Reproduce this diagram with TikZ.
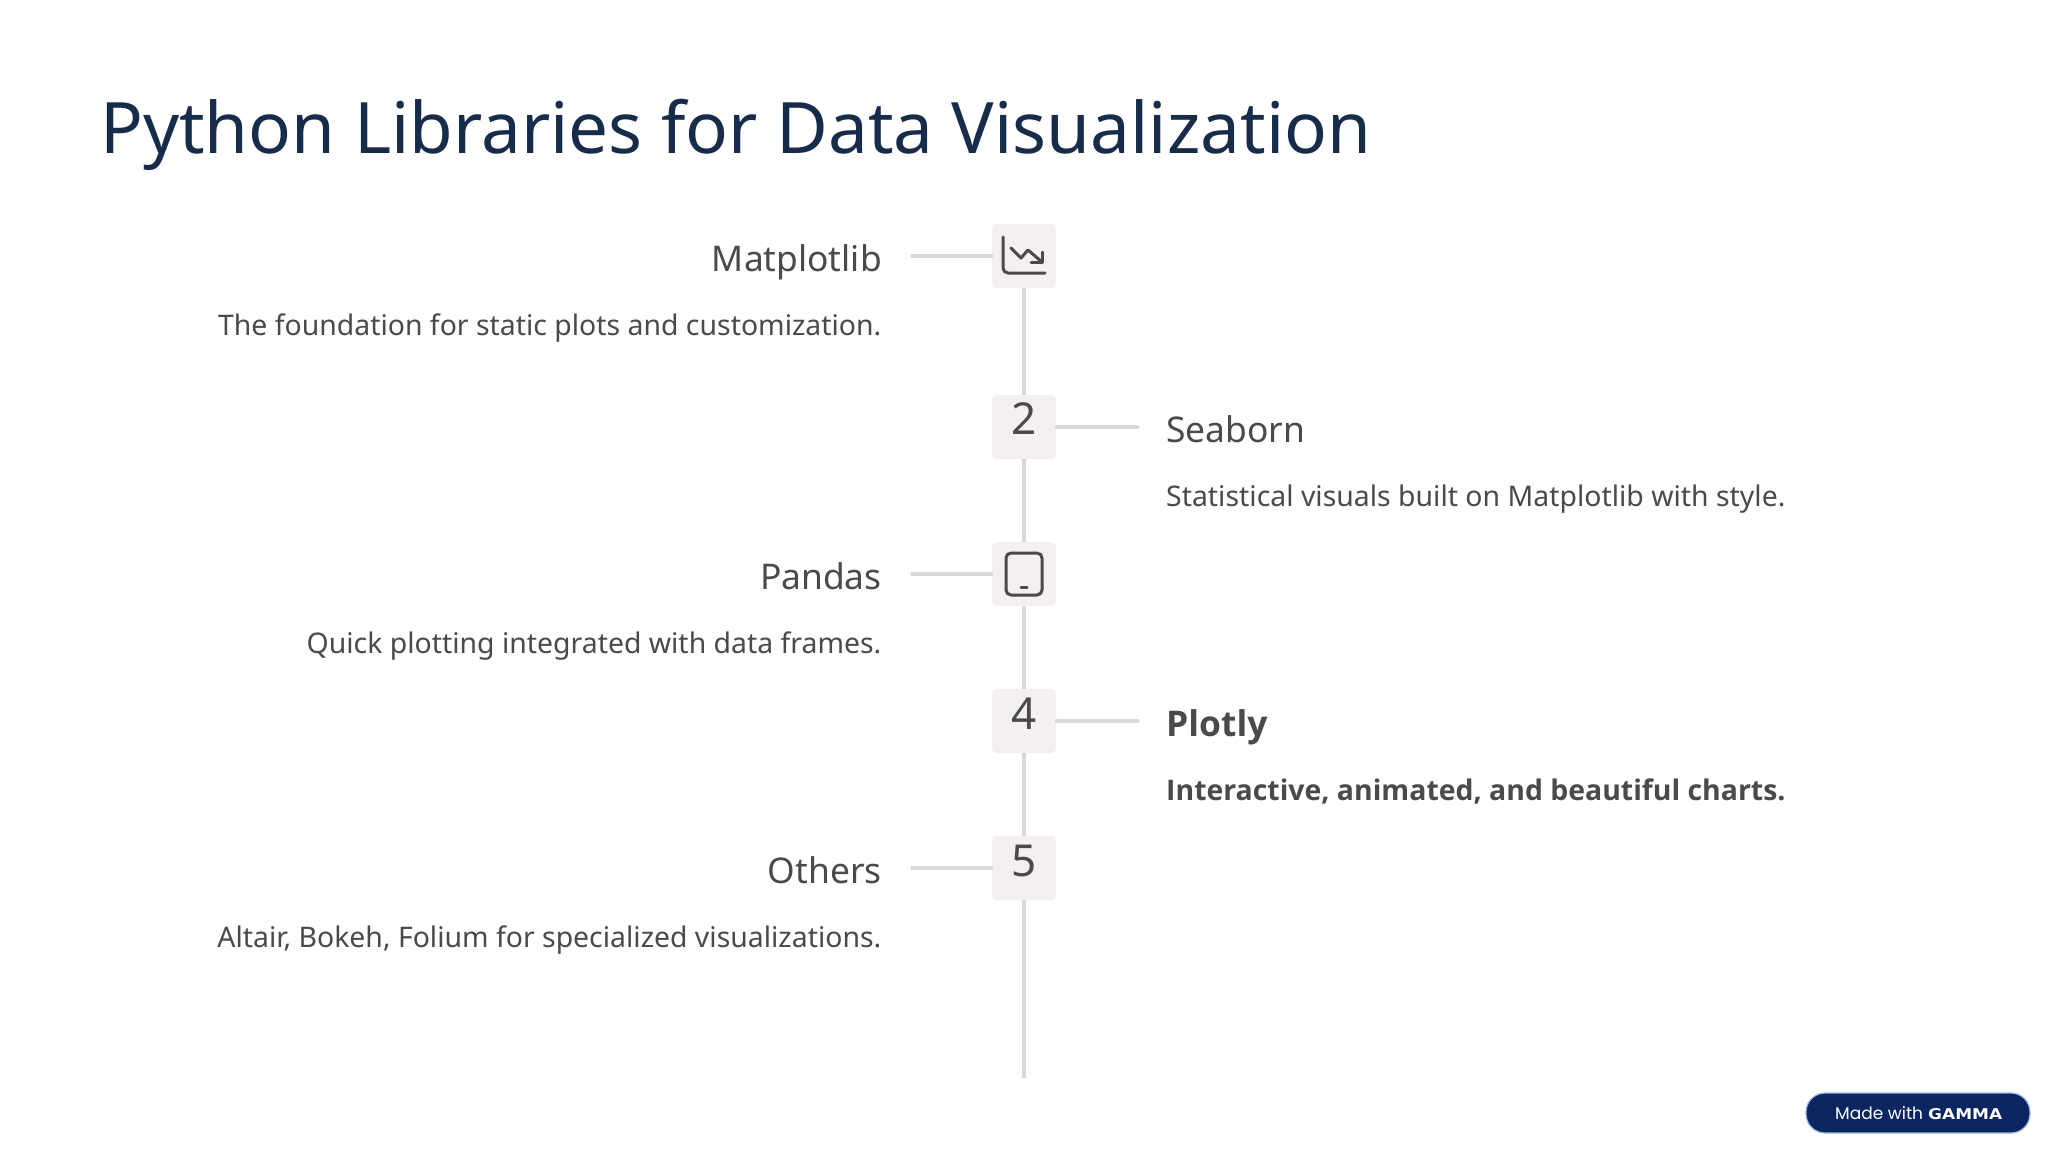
\documentclass[tikz,border=0pt]{standalone}
\usepackage{fontspec}
\usepackage{graphicx}
\setmainfont{Noto Sans}
\newfontfamily\strongfont{Open Sans}
\newfontfamily\badgefont{Poppins}
\newfontfamily\gammafont{DejaVu Sans}
\definecolor{titleblue}{HTML}{162C4A}
\definecolor{bodygrey}{HTML}{4A4A4A}
\definecolor{linegrey}{HTML}{DAD9D8}
\definecolor{boxfill}{HTML}{F3F0EF}
\definecolor{badgeblue}{HTML}{0A2560}
\definecolor{badgeedge}{HTML}{9DBBE0}
\tikzset{
  x=1pt,y=-1pt,
  stepbox/.style={minimum width=64pt,minimum height=64pt,inner sep=0pt,fill=boxfill,rounded corners=5pt},
  stepnum/.style={anchor=base,inner sep=0pt,text=bodygrey,font=\fontsize{44}{44}\selectfont},
  rail/.style={draw=linegrey,line width=3.2pt},
  tick/.style={draw=linegrey,line width=3.2pt,line cap=round},
  headl/.style={anchor=base east,inner sep=0pt,text=bodygrey,font=\fontsize{35.4}{36}\selectfont},
  headr/.style={anchor=base west,inner sep=0pt,text=bodygrey,font=\fontsize{35.4}{36}\selectfont},
  descl/.style={anchor=base east,inner sep=0pt,text=bodygrey,font=\fontsize{28.4}{29}\selectfont},
  descr/.style={anchor=base west,inner sep=0pt,text=bodygrey,font=\fontsize{28.4}{29}\selectfont},
  icon/.style={draw=bodygrey,line width=3pt,line cap=round,line join=round},
}
\begin{document}
\begin{tikzpicture}
\useasboundingbox[fill=white] (0,0) rectangle (2048,1152);
\node[anchor=base west,inner sep=0pt,text=titleblue,font=\fontsize{71}{71}\selectfont] (title) at (100,153) {Python Libraries for Data Visualization};
% boxes
\node[stepbox] (b1) at (1024,256) {};
\node[stepbox] (b2) at (1024,427) {};
\node[stepbox] (b3) at (1024,574) {};
\node[stepbox] (b4) at (1024,721) {};
\node[stepbox] (b5) at (1024,868) {};
\node[stepnum] (n2) at (1024,434) {2};
\node[stepnum] (n4) at (1024,729) {4};
\node[stepnum] (n5) at (1024,876) {5};
% rail
\coordinate (railend) at (1024,1078);
\draw[rail] (b1) -- (b2);
\draw[rail] (b2) -- (b3);
\draw[rail] (b3) -- (b4);
\draw[rail] (b4) -- (b5);
\draw[rail] (b5) -- (railend);
% ticks
\coordinate (t1) at (912,256);
\coordinate (t2) at (1138,427);
\coordinate (t3) at (912,574);
\coordinate (t4) at (1138,721);
\coordinate (t5) at (912,868);
\draw[tick] (t1) -- (b1);
\draw[tick] (b2) -- (t2);
\draw[tick] (t3) -- (b3);
\draw[tick] (b4) -- (t4);
\draw[tick] (t5) -- (b5);
% icons
\draw[icon] (1003,237) -- (1003,268) arc[start angle=180,end angle=90,radius=5] -- (1045,273);
\draw[icon] (1011,248) -- (1021,258) -- (1028,250) -- (1042,262);
\draw[icon] (1031,262) -- (1042,262) -- (1042,252);
\draw[icon,rounded corners=5pt] (1006,553) rectangle (1042,595);
\draw[icon] (1021,587) -- (1027,587);
% texts
\node[headl] (h1) at (882,271) {Matplotlib};
\node[descl] (d1) at (881.5,335) {The foundation for static plots and customization.};
\node[headr] (h2) at (1166,442) {Seaborn};
\node[descr] (d2) at (1166,506) {Statistical visuals built on Matplotlib with style.};
\node[headl] (h3) at (882,589) {Pandas};
\node[descl] (d3) at (881.5,653) {Quick plotting integrated with data frames.};
\node[headr,font=\strongfont\fontsize{35.4}{36}\selectfont\bfseries] (h4) at (1166,736) {Plotly};
\node[descr,font=\strongfont\fontsize{28.4}{29}\selectfont\bfseries] (d4) at (1166,800) {Interactive, animated, and beautiful charts.};
\node[headl] (h5) at (882,883) {Others};
\node[descl] (d5) at (881.5,947) {Altair, Bokeh, Folium for specialized visualizations.};
% badge
\node[draw=badgeedge,line width=1.2pt,fill=badgeblue,rounded corners=19pt,minimum width=224pt,minimum height=40pt,inner sep=0pt] (badge) at (1918,1113) {};
\node[anchor=base west,inner sep=0pt,text=white,font=\badgefont\fontsize{17}{18}\selectfont] (madewith) at (1835,1119) {Made with};
\node[anchor=base west,inner sep=0pt,text=white,font=\gammafont\bfseries] (gamma) at (1928,1119) {\resizebox{74pt}{11pt}{GAMMA}};
\end{tikzpicture}
\end{document}
